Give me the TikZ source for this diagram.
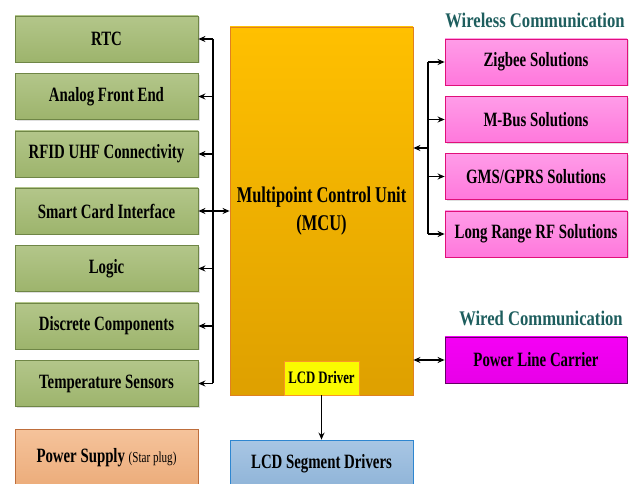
\documentclass[tikz,border=0pt]{standalone}
\usepackage{fontspec}
\setmainfont{Liberation Serif}[FakeStretch=0.73]
\newfontfamily\titlefont{Liberation Serif}[FakeStretch=0.8]
\usetikzlibrary{arrows.meta,shadows}
\definecolor{gtop}{HTML}{B3C68A}
\definecolor{gbot}{HTML}{9DB46C}
\definecolor{gline}{HTML}{6F8646}
\definecolor{ptop}{HTML}{FF9CE8}
\definecolor{pbot}{HTML}{FF78DC}
\definecolor{pline}{HTML}{E0107A}
\definecolor{teal}{HTML}{1E5E5E}
\tikzset{
  x=1pt,y=-1pt,
  every node/.style={font=\bfseries\fontsize{20.3}{22}\selectfont},
  gbox/.style={draw=gline,line width=0.8pt,top color=gtop,bottom color=gbot,minimum width=183pt,minimum height=46pt,inner sep=0pt,drop shadow={shadow xshift=1.5pt,shadow yshift=-1.5pt,opacity=0.25}},
  pbox/.style={draw=pline,line width=0.8pt,top color=ptop,bottom color=pbot,minimum width=182pt,minimum height=46pt,inner sep=0pt,drop shadow={shadow xshift=1.5pt,shadow yshift=-1.5pt,opacity=0.25}},
  conn/.style={line width=1.2pt,draw=black},
  arr/.style={conn,-{Stealth[length=7pt,width=6pt]}},
  darr/.style={conn,{Stealth[length=7pt,width=6pt]}-{Stealth[length=7pt,width=6pt]}},
  title/.style={text=teal,font=\titlefont\bfseries\fontsize{20.8}{22}\selectfont},
}
\begin{document}
\begin{tikzpicture}
\useasboundingbox (0,0) rectangle (633,484);
% MCU
\node[draw={rgb,255:red,224;green,128;blue,32},line width=0.8pt,top color={rgb,255:red,255;green,192;blue,0},bottom color={rgb,255:red,222;green,160;blue,0},minimum width=183pt,minimum height=368pt,inner sep=0pt] (mcu) at (321.5,211) {};
\node[align=center,font=\bfseries\fontsize{22.5}{28}\selectfont] (mcutxt) at (321.5,211) {Multipoint Control Unit\\(MCU)};
\node[draw={rgb,255:red,250;green,150;blue,40},line width=0.8pt,fill={rgb,255:red,250;green,250;blue,0},minimum width=75pt,minimum height=34pt,inner sep=0pt,font=\bfseries\fontsize{17.5}{19}\selectfont] (lcd) at (321.5,378) {LCD Driver};
% left boxes
\node[gbox] (rtc) at (106.5,39) {RTC};
\node[gbox] (afe) at (106.5,96.5) {Analog Front End};
\node[gbox] (rfid) at (106.5,154) {RFID UHF Connectivity};
\node[gbox] (smart) at (106.5,211) {Smart Card Interface};
\node[gbox] (logic) at (106.5,268.5) {Logic};
\node[gbox] (disc) at (106.5,326) {Discrete Components};
\node[gbox] (temp) at (106.5,383.5) {Temperature Sensors};
\node[draw={rgb,255:red,190;green,110;blue,60},line width=0.8pt,top color={rgb,255:red,245;green,195;blue,155},bottom color={rgb,255:red,236;green,172;blue,122},minimum width=183pt,minimum height=58pt,inner sep=0pt] (ps) at (106.5,458) {Power Supply {\fontsize{15.2}{17}\selectfont\mdseries(Star plug)}};
\node[draw={rgb,255:red,46;green,134;blue,208},line width=0.8pt,top color={rgb,255:red,168;green,198;blue,228},bottom color={rgb,255:red,143;green,180;blue,216},minimum width=183pt,minimum height=48pt,inner sep=0pt] (seg) at (321.5,464) {LCD Segment Drivers};
% right boxes
\node[title] (wl) at (535,20) {Wireless Communication};
\node[pbox] (zig) at (536,62) {Zigbee Solutions};
\node[pbox] (mbus) at (536,119.5) {M-Bus Solutions};
\node[pbox] (gms) at (536,176.5) {GMS/GPRS Solutions};
\node[pbox] (lr) at (536,234) {Long Range RF Solutions};
\node[title] (wd) at (541,318) {Wired Communication};
\node[draw={rgb,255:red,100;green,0;blue,100},line width=0.8pt,top color={rgb,255:red,245;green,0;blue,245},bottom color={rgb,255:red,232;green,0;blue,232},minimum width=182pt,minimum height=46pt,inner sep=0pt] (plc) at (536,360) {Power Line Carrier};
% left bus
\coordinate (lb) at (213,0);
\draw[conn] (lb |- rtc.east) -- (lb |- temp.east);
\foreach \n in {rtc,afe,rfid,logic,disc,temp}{
  \draw[arr] (lb |- \n.east) -- (\n.east);
}
\draw[darr] (smart.east) -- (smart.east -| mcu.west);
% right bus
\coordinate (rb) at (428,0);
\coordinate (rm) at (428,148);
\draw[conn] (rb |- zig.west) -- (rb |- lr.west);
\foreach \n in {zig,mbus,gms,lr}{
  \draw[arr] (rb |- \n.west) -- (\n.west);
}
\draw[arr] (rm) -- (rm -| mcu.east);
\draw[darr] (plc.west) -- (plc.west -| mcu.east);
\draw[arr] (lcd.south) -- (seg.north);
\end{tikzpicture}
\end{document}
